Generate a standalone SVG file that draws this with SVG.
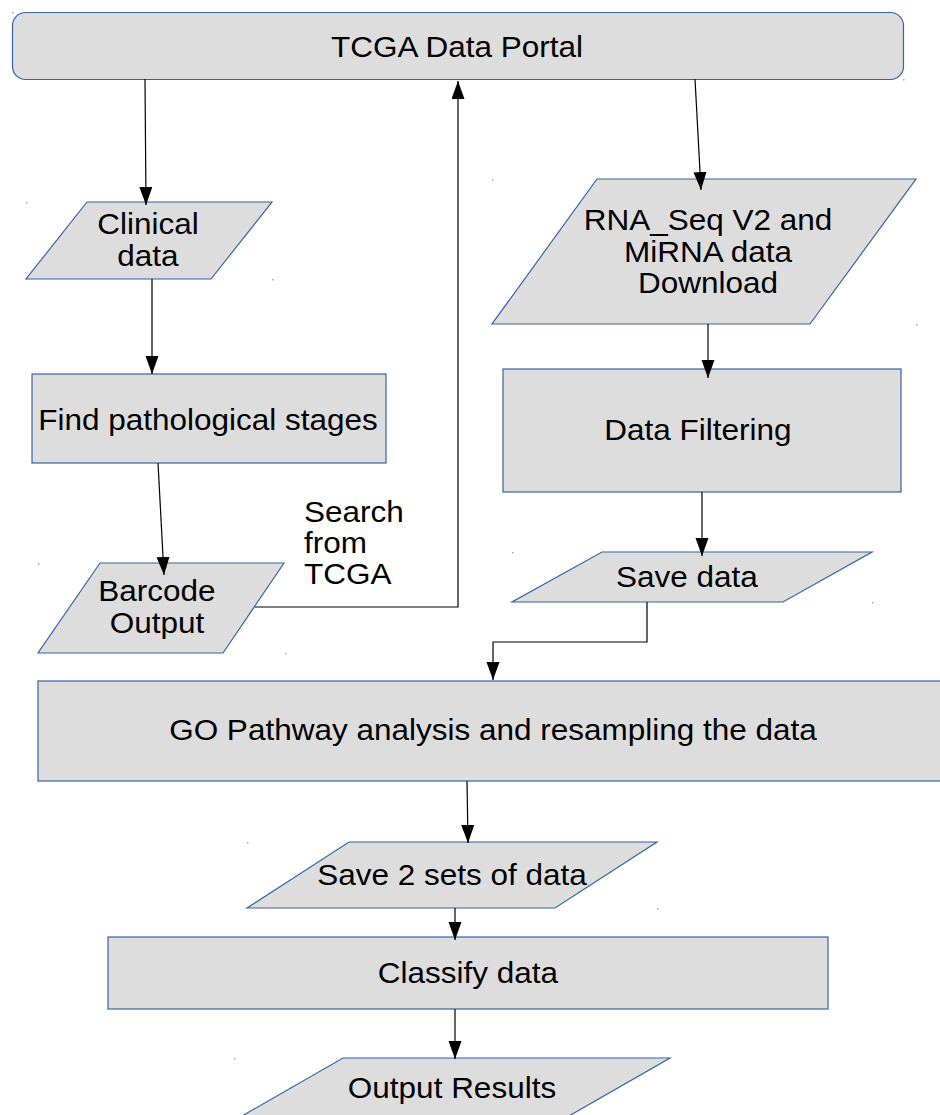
<svg xmlns="http://www.w3.org/2000/svg" width="940" height="1115" viewBox="0 0 940 1115">
<defs>
<style>
.shape{fill:#dddddd;stroke:#3465a4;stroke-width:1.2}
.t{font-family:"Liberation Sans",Arial,sans-serif;font-size:30px;fill:#000;text-anchor:middle;transform-box:fill-box;transform-origin:center;transform:scaleX(1.05)}
.tl{text-anchor:start;transform-origin:left center}
.c{fill:none;stroke:#000;stroke-width:1.2}
.dot{fill:#8fa9d0}
</style>
<marker id="ah" markerUnits="userSpaceOnUse" markerWidth="19" markerHeight="14" refX="18" refY="6.5" orient="auto">
<path d="M0,0 L18,6.5 L0,13 z" fill="#000"/>
</marker>
</defs>
<rect width="940" height="1115" fill="#fff"/>

<g id="portal">
<rect class="shape" x="12.5" y="12.5" width="891" height="67" rx="13"/>
<text class="t" x="457" y="57">TCGA Data Portal</text>
</g>

<g id="clinical">
<polygon class="shape" points="87,202 272,202 211,279 26,279"/>
<text class="t" x="148" y="234">Clinical</text>
<text class="t" x="148" y="266">data</text>
</g>

<g id="find">
<rect class="shape" x="32" y="374" width="354" height="89"/>
<text class="t" x="208" y="430">Find pathological stages</text>
</g>

<g id="barcode">
<polygon class="shape" points="100,563 284,563 223,653 38,653"/>
<text class="t" x="157" y="601">Barcode</text>
<text class="t" x="157" y="633">Output</text>
</g>

<g id="search-label">
<text class="t tl" x="304" y="522">Search</text>
<text class="t tl" x="304" y="553">from</text>
<text class="t tl" x="304" y="584">TCGA</text>
</g>

<g id="rnaseq">
<polygon class="shape" points="597,179 916,179 810,324 492,324"/>
<text class="t" x="708" y="230">RNA_Seq V2 and</text>
<text class="t" x="708" y="262">MiRNA data</text>
<text class="t" x="708" y="293">Download</text>
</g>

<g id="filtering">
<rect class="shape" x="503" y="369" width="398" height="123"/>
<text class="t" x="698" y="440">Data Filtering</text>
</g>

<g id="savedata">
<polygon class="shape" points="602,552 872,552 783,602 512,602"/>
<text class="t" x="687" y="587">Save data</text>
</g>

<g id="goanalysis">
<rect class="shape" x="38" y="681" width="910" height="100"/>
<text class="t" x="493" y="740">GO Pathway analysis and resampling the data</text>
</g>

<g id="save2">
<polygon class="shape" points="349,842 657,842 555,908 247,908"/>
<text class="t" x="452" y="885">Save 2 sets of data</text>
</g>

<g id="classify">
<rect class="shape" x="108" y="937" width="720" height="72"/>
<text class="t" x="468" y="983">Classify data</text>
</g>

<g id="output">
<polygon class="shape" points="343,1058 670,1058 555,1124 228,1124"/>
<text class="t" x="452" y="1098">Output Results</text>
</g>

<g id="connectors">
<path class="c" d="M145,79 L146,205" marker-end="url(#ah)"/>
<path class="c" d="M152,279 L152,374" marker-end="url(#ah)"/>
<path class="c" d="M158,463 L164,575" marker-end="url(#ah)"/>
<path class="c" d="M255,607 H458 V81" marker-end="url(#ah)"/>
<path class="c" d="M695,79 L701,190" marker-end="url(#ah)"/>
<path class="c" d="M708,324 L708,378" marker-end="url(#ah)"/>
<path class="c" d="M702,492 L702,556" marker-end="url(#ah)"/>
<path class="c" d="M647,602 V642 H493 V680" marker-end="url(#ah)"/>
<path class="c" d="M467,781 L468,843" marker-end="url(#ah)"/>
<path class="c" d="M455,908 L455,940" marker-end="url(#ah)"/>
<path class="c" d="M455,1009 L455,1059" marker-end="url(#ah)"/>
</g>

<g id="marks">
<rect class="dot" x="12" y="12" width="1.5" height="1.5"/>
<rect class="dot" x="903" y="79" width="1.5" height="1.5"/>
<rect class="dot" x="26" y="202" width="1.5" height="1.5"/>
<rect class="dot" x="272" y="279" width="1.5" height="1.5"/>
<rect class="dot" x="38" y="563" width="1.5" height="1.5"/>
<rect class="dot" x="285" y="653" width="1.5" height="1.5"/>
<rect class="dot" x="492" y="179" width="1.5" height="1.5"/>
<rect class="dot" x="916" y="324" width="1.5" height="1.5"/>
<rect class="dot" x="512" y="552" width="1.5" height="1.5"/>
<rect class="dot" x="872" y="602" width="1.5" height="1.5"/>
<rect class="dot" x="247" y="842" width="1.5" height="1.5"/>
<rect class="dot" x="657" y="908" width="1.5" height="1.5"/>
<rect class="dot" x="234" y="1058" width="1.5" height="1.5"/>
</g>
</svg>
